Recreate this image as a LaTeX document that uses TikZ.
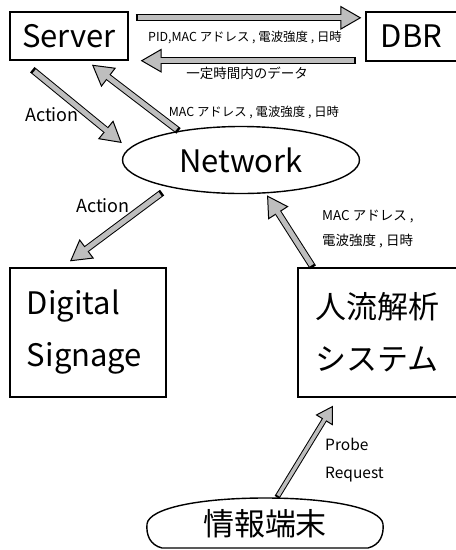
\documentclass[tikz,border=0pt]{standalone}
\usepackage{fontspec}
\setmainfont{Noto Sans CJK JP}
\usetikzlibrary{arrows.meta, positioning, shapes.geometric}
\definecolor{arrgray}{RGB}{190,190,190}

\begin{document}
\begin{tikzpicture}[
x=1pt, y=-1pt,
box/.style={rectangle, draw, line width=1.4pt, inner sep=0pt,
font=\fontsize{31}{52}\selectfont},
arr/.style={line width=7pt, draw=black,
-{Triangle[length=21pt, width=24pt, line width=1pt, fill=arrgray]},
postaction={draw=arrgray, line width=5pt, -, shorten <=2.5pt, shorten >=19pt}},
thinarr/.style={line width=5.5pt, draw=black,
-{Triangle[length=17pt, width=20pt, line width=1pt, fill=arrgray]},
postaction={draw=arrgray, line width=3.5pt, -, shorten <=2pt, shorten >=15pt}},
lbl/.style={inner sep=0pt, font=\fontsize{12.4}{24}\selectfont}
]
\useasboundingbox (0,0) rectangle (456,550);
\clip (0,0) rectangle (456,550);

\node[box, minimum width=118pt, minimum height=48pt] (srv) at (69,36) {Server};
\node[box, minimum width=91pt, minimum height=49pt] (dbr) at (411.5,36.5) {DBR};
\node[box, ellipse, minimum width=237pt, minimum height=67pt] (net) at (241,160) {Network};
\node[box, minimum width=156pt, minimum height=129pt, text width=122pt, align=left] (ds) at (88,332.5) {Digital\\Signage};
\node[box, minimum width=160pt, minimum height=129pt, text width=126pt, align=left] (flow) at (378,332.5) {人流解析\\システム};
\node[box, draw=none, minimum width=236pt, minimum height=51pt] (term) at (265,523.5) {情報端末};
% outline of the terminal shape
\draw[line width=1.4pt] (162,548) .. controls (150,545) and (146,535) .. (147,524)
  .. controls (149,508) and (200,498) .. (265,498)
  .. controls (330,498) and (381,508) .. (383,524)
  .. controls (384,535) and (380,545) .. (368,548) -- cycle;

% labels
\node[lbl] (pidlbl) at (245,37) {PID,MAC アドレス , 電波強度 , 日時};
\node[lbl, font=\fontsize{13.5}{24}\selectfont] (datalbl) at (247,73) {一定時間内のデータ};
\node[lbl] (maclbl) at (254,112) {MAC アドレス , 電波強度 , 日時};
\node[lbl, font=\fontsize{18}{24}\selectfont] (act1) at (52,115) {Action};
\node[lbl, font=\fontsize{18}{24}\selectfont] (act2) at (103,206) {Action};
\node[lbl, font=\fontsize{13.5}{25}\selectfont, align=left, anchor=west] (flowlbl) at (322,229.5) {MAC アドレス ,\\電波強度 , 日時};
\node[lbl, font=\fontsize{15.5}{28}\selectfont, align=left, anchor=west] (probe) at (325,460) {Probe\\Request};

\draw[arr] ([xshift=7pt, yshift=-6.5pt]srv.north east) -- ([xshift=-4pt, yshift=-6.5pt]dbr.north west);
\draw[arr] ([xshift=-9pt, yshift=1pt]dbr.south west) -- ([xshift=12pt]srv.south east);
\draw[arr] ([xshift=23pt, yshift=-9pt]srv.south west) -- ([yshift=17pt]net.west);
\draw[arr] (net.155) -- ([xshift=23pt, yshift=-4pt]srv.south);
\draw[arr] ([yshift=-7pt]net.198) -- ([xshift=-18pt, yshift=6pt]ds.north);
\draw[arr] ([xshift=-65pt]flow.north) -- ([yshift=-2pt]net.-52);
\draw[thinarr] ([xshift=12pt]term.north) -- ([xshift=-45pt, yshift=-8pt]flow.south);
\end{tikzpicture}
\end{document}
